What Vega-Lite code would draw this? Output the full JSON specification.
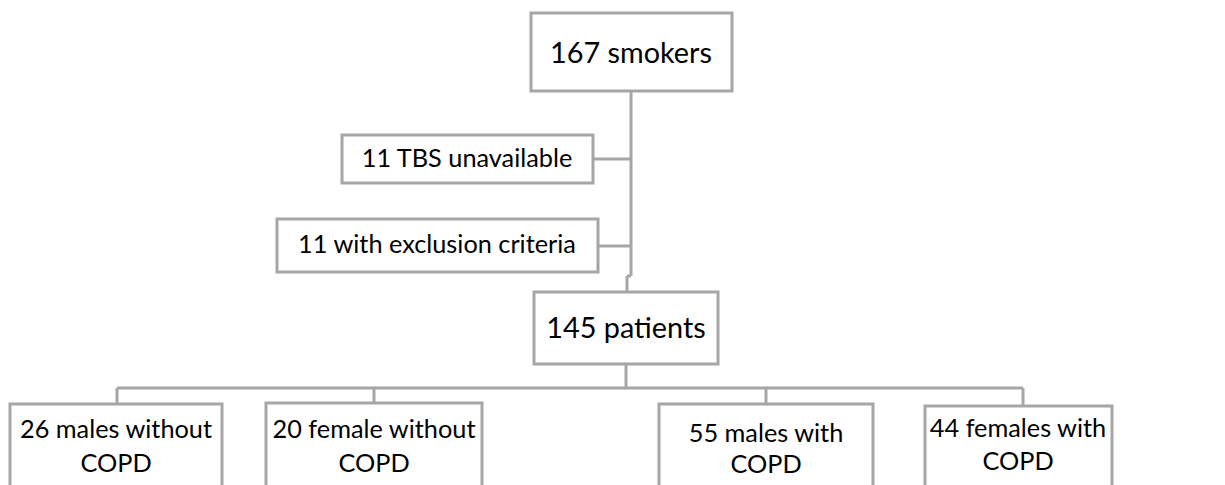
{
  "$schema": "https://vega.github.io/schema/vega-lite/v6.json",
  "width": 1225,
  "height": 485,
  "padding": 0,
  "autosize": {"type": "fit", "contains": "padding"},
  "background": "white",
  "config": {"view": {"stroke": null}},
  "datasets": {
    "lines": [
      {"x": 631, "x2": 631, "y": 91, "y2": 276},
      {"x": 627, "x2": 631, "y": 276, "y2": 276},
      {"x": 627, "x2": 627, "y": 276, "y2": 292},
      {"x": 593, "x2": 631, "y": 159, "y2": 159},
      {"x": 598, "x2": 631, "y": 246, "y2": 246},
      {"x": 626, "x2": 626, "y": 364, "y2": 388},
      {"x": 117, "x2": 1023, "y": 388, "y2": 388},
      {"x": 117, "x2": 117, "y": 388, "y2": 404},
      {"x": 374, "x2": 374, "y": 388, "y2": 403},
      {"x": 766, "x2": 766, "y": 388, "y2": 404},
      {"x": 1023, "x2": 1023, "y": 388, "y2": 406}
    ],
    "boxes": [
      {"x": 531, "x2": 732, "y": 13, "y2": 91},
      {"x": 342, "x2": 593, "y": 135, "y2": 183},
      {"x": 277, "x2": 598, "y": 219, "y2": 272},
      {"x": 534, "x2": 718, "y": 292, "y2": 364},
      {"x": 10, "x2": 222, "y": 404, "y2": 495},
      {"x": 266, "x2": 482, "y": 403, "y2": 495},
      {"x": 659, "x2": 873, "y": 404, "y2": 495},
      {"x": 925, "x2": 1112, "y": 406, "y2": 495}
    ],
    "bigtext": [
      {"x": 631, "y": 63, "label": "167 smokers"},
      {"x": 626, "y": 338, "label": "145 patients"}
    ],
    "smalltext": [
      {"x": 467, "y": 167, "label": "11 TBS unavailable"},
      {"x": 437, "y": 253, "label": "11 with exclusion criteria"},
      {"x": 116, "y": 438, "label": "26 males without"},
      {"x": 116, "y": 472, "label": "COPD"},
      {"x": 374, "y": 438, "label": "20 female without"},
      {"x": 374, "y": 472, "label": "COPD"},
      {"x": 766, "y": 442, "label": "55 males with"},
      {"x": 766, "y": 473, "label": "COPD"},
      {"x": 1018, "y": 437, "label": "44 females with"},
      {"x": 1018, "y": 470, "label": "COPD"}
    ]
  },
  "layer": [
    {
      "data": {"name": "lines"},
      "mark": {"type": "rule", "color": "#a6a6a6", "strokeWidth": 3},
      "encoding": {
        "x": {"field": "x", "type": "quantitative", "scale": {"domain": [0, 1225]}, "axis": null},
        "x2": {"field": "x2"},
        "y": {"field": "y", "type": "quantitative", "scale": {"domain": [0, 485], "reverse": true}, "axis": null},
        "y2": {"field": "y2"}
      }
    },
    {
      "data": {"name": "boxes"},
      "mark": {"type": "rect", "fill": "white", "stroke": "#a6a6a6", "strokeWidth": 3, "clip": true},
      "encoding": {
        "x": {"field": "x", "type": "quantitative", "scale": {"domain": [0, 1225]}, "axis": null},
        "x2": {"field": "x2"},
        "y": {"field": "y", "type": "quantitative", "scale": {"domain": [0, 485], "reverse": true}, "axis": null},
        "y2": {"field": "y2"}
      }
    },
    {
      "data": {"name": "bigtext"},
      "mark": {"type": "text", "font": "Lato", "fontSize": 28.8, "color": "#000000", "align": "center", "baseline": "alphabetic"},
      "encoding": {
        "x": {"field": "x", "type": "quantitative", "scale": {"domain": [0, 1225]}, "axis": null},
        "y": {"field": "y", "type": "quantitative", "scale": {"domain": [0, 485], "reverse": true}, "axis": null},
        "text": {"field": "label"}
      }
    },
    {
      "data": {"name": "smalltext"},
      "mark": {"type": "text", "font": "Lato", "fontSize": 25.3, "color": "#000000", "align": "center", "baseline": "alphabetic"},
      "encoding": {
        "x": {"field": "x", "type": "quantitative", "scale": {"domain": [0, 1225]}, "axis": null},
        "y": {"field": "y", "type": "quantitative", "scale": {"domain": [0, 485], "reverse": true}, "axis": null},
        "text": {"field": "label"}
      }
    }
  ]
}
